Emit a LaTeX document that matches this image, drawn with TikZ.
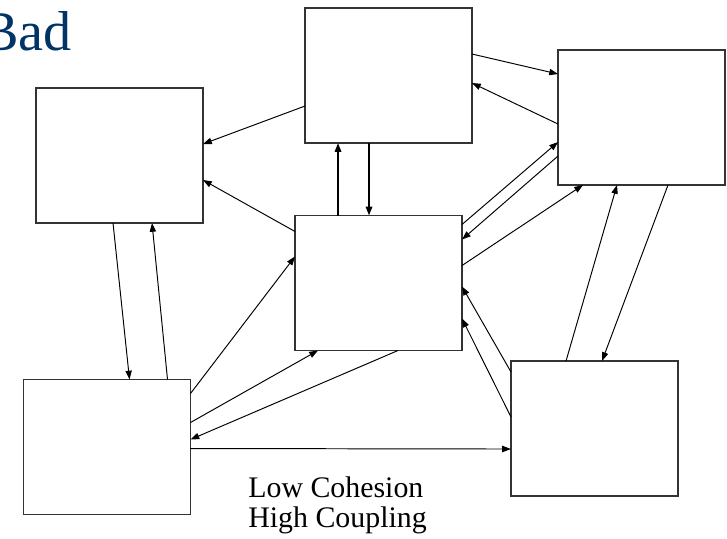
\documentclass[tikz,border=0pt]{standalone}
\usepackage{fontspec}
\setmainfont{Liberation Serif}
\usetikzlibrary{arrows.meta}
\definecolor{Navy}{rgb}{0.0, 0.2, 0.4}

\begin{document}
\begin{tikzpicture}[
  x=0.02cm, y=-0.02cm,
  module/.style={draw=black!80, line width=0.6pt, minimum width=3.34cm,
    minimum height=2.7cm, inner sep=0pt, outer sep=0pt},
  link/.style={line width=0.55pt, -{Triangle[length=5pt,width=3.6pt]}},
  thicklink/.style={link, line width=1.1pt}
]
\useasboundingbox (0,0) rectangle (727,538);

% Title
\node[Navy, font=\fontsize{32}{38}\selectfont, anchor=base east, inner sep=0pt]
  (title) at (72,50) {Bad};

% ============================================================
% Modules (box centres in pixels of the reference)
% ============================================================
\node[module] (top)    at (388.5,75.5) {};
\node[module] (right)  at (641.5,117.5) {};
\node[module] (left)   at (119.5,155.5) {};
\node[module] (mid)    at (378.5,283) {};
\node[module] (botl)   at (107,447) {};
\node[module] (botr)   at (594.5,428.5) {};

% ============================================================
% Couplings (offsets from box corners, pixels)
% ============================================================
% top <-> left, mid -> left
\draw[link] ([shift={(0,98)}]top.north west) -- ([shift={(0,56)}]left.north east);
\draw[link] ([shift={(0,16)}]mid.north west) -- ([shift={(0,92)}]left.north east);

% left <-> bottom left
\draw[link] ([shift={(77,0)}]left.south west) -- ([shift={(106,0)}]botl.north west);
\draw[link] ([shift={(144,0)}]botl.north west) -- ([shift={(116,0)}]left.south west);

% mid <-> top
\draw[thicklink] ([shift={(43,0)}]mid.north west) -- ([shift={(33,0)}]top.south west);
\draw[thicklink] ([shift={(64,0)}]top.south west) -- ([shift={(74,0)}]mid.north west);

% top <-> right
\draw[link] ([shift={(0,46)}]top.north east) -- ([shift={(0,24)}]right.north west);
\draw[link] ([shift={(0,74)}]right.north west) -- ([shift={(0,75)}]top.north east);

% mid <-> right
\draw[link] ([shift={(0,9)}]mid.north east) -- ([shift={(0,92)}]right.north west);
\draw[link] ([shift={(0,106)}]right.north west) -- ([shift={(0,24)}]mid.north east);
\draw[link] ([shift={(0,50)}]mid.north east) -- ([shift={(25,0)}]right.south west);

% right <-> bottom right
\draw[link] ([shift={(55,0)}]botr.north west) -- ([shift={(59,0)}]right.south west);
\draw[link] ([shift={(110,0)}]right.south west) -- ([shift={(91,0)}]botr.north west);

% bottom right -> mid
\draw[link] ([shift={(0,11)}]botr.north west) -- ([shift={(0,71)}]mid.north east);
\draw[link] ([shift={(0,56)}]botr.north west) -- ([shift={(0,103)}]mid.north east);

% bottom left <-> others
\draw[link] ([shift={(0,69)}]botl.north east) -- ([shift={(0,88)}]botr.north west);
\draw[link] ([shift={(0,14)}]botl.north east) -- ([shift={(0,41)}]mid.north west);
\draw[link] ([shift={(0,43)}]botl.north east) -- ([shift={(23,0)}]mid.south west);
\draw[link] ([shift={(103,0)}]mid.south west) -- ([shift={(0,60)}]botl.north east);

% Caption
\node[font=\fontsize{17}{17}\selectfont, anchor=base west, align=left, inner sep=0pt]
  (caption) at (248,527) {Low Cohesion\\High Coupling};

\end{tikzpicture}
\end{document}
